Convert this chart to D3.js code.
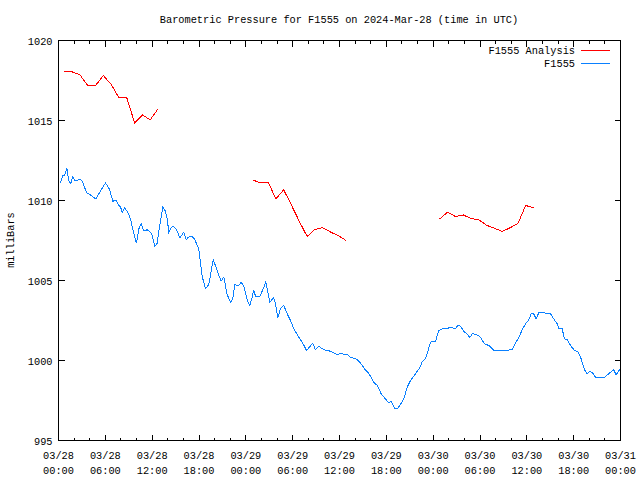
<!DOCTYPE html>
<html>
<head>
<meta charset="utf-8">
<script src="https://cdn.jsdelivr.net/npm/d3@7"></script>
<style>
  body { margin: 0; background: #fff; }
  svg text { font-family: "Liberation Mono", "DejaVu Sans Mono", monospace; font-size: 10.3px; fill: #000; }
</style>
</head>
<body>
<div id="chart"></div>
<script>
// hours since 2024-03-28 00:00 UTC
const stationTimes = [0.26,0.55,0.81,1.06,1.32,1.58,1.83,2.09,2.82,3.11,3.59,4.1,4.78,5.38,6.02,6.53,6.96,7.39,7.65,7.94,8.16,8.46,8.88,9.22,9.57,9.99,10.29,10.59,10.93,11.36,11.91,12.34,12.64,12.85,13.36,13.62,13.93,14.13,14.44,14.69,15.12,15.54,16.05,16.36,16.62,17.13,17.42,17.97,18.41,18.83,19.25,19.82,20.2,20.54,20.84,21.18,21.61,22.03,22.33,22.59,23.1,23.41,23.74,24.17,24.51,24.81,25.02,25.24,25.79,26.22,26.56,26.86,27.07,27.58,27.8,28.09,28.44,28.86,29.3,29.72,30.14,30.78,31.22,31.77,32.07,32.58,32.92,33.35,33.99,34.85,35.7,36.13,36.98,37.41,38.27,38.69,39.2,39.75,40.39,40.83,41.34,41.89,42.31,42.62,43.08,43.39,43.72,44.24,44.67,45.09,45.73,46.29,46.59,46.89,47.23,47.66,48.3,48.72,49.16,49.79,50.13,50.86,51.15,51.5,52.01,52.43,52.69,53.0,53.55,54.06,54.57,55.12,55.76,56.62,57.48,58.12,58.55,59.1,59.4,59.83,60.25,60.59,60.89,61.2,61.53,62.17,62.52,63.03,63.45,63.89,64.09,64.53,64.82,65.17,65.68,66.1,66.53,66.96,67.38,67.73,68.06,68.5,68.79,69.65,69.86,70.49,71.13,71.44,71.9];
const stationValues = [1011.1,1011.56,1011.6,1012.04,1011.25,1011.04,1011.5,1011.25,1011.3,1011.15,1010.48,1010.35,1010.1,1010.6,1011.1,1010.7,1009.96,1010.0,1009.73,1009.6,1009.27,1009.54,1009.27,1008.85,1008.1,1007.33,1008.23,1008.54,1008.1,1008.17,1007.96,1007.14,1007.33,1008.08,1009.58,1009.42,1008.85,1008.02,1008.29,1008.4,1008.19,1007.67,1008.02,1007.54,1007.71,1007.75,1007.6,1006.98,1005.25,1004.5,1004.73,1006.3,1005.8,1005.31,1004.97,1005.21,1004.12,1003.65,1003.85,1004.73,1004.69,1004.9,1004.63,1003.79,1003.44,1003.96,1004.42,1004.0,1004.0,1004.48,1004.9,1004.17,1003.65,1003.92,1003.54,1002.67,1003.23,1003.44,1002.92,1002.5,1001.98,1001.46,1001.15,1000.63,1000.79,1001.08,1000.67,1000.88,1000.67,1000.58,1000.38,1000.42,1000.38,1000.21,1000.06,999.85,999.48,999.2,998.65,998.44,997.92,997.6,997.35,997.46,996.98,996.98,997.19,997.6,998.33,998.75,999.17,999.54,999.94,1000.0,1000.42,1001.15,1001.19,1001.88,1001.98,1001.98,1002.08,1001.98,1002.19,1002.15,1001.77,1001.63,1001.42,1001.67,1001.63,1001.46,1001.04,1000.94,1000.63,1000.63,1000.63,1000.69,1001.08,1001.56,1001.92,1002.29,1002.54,1002.96,1002.9,1002.6,1002.98,1002.98,1002.96,1002.92,1002.6,1002.29,1002.02,1001.98,1001.35,1001.29,1000.88,1000.63,1000.56,1000.1,999.42,999.17,999.31,999.2,998.96,998.96,998.92,999.17,999.42,999.1,999.44];

// analysis runs (three separate segments)
const analysisTimes1 = [0.75,1.75,2.75,3.75,4.75,5.75,6.75,7.75,8.75,9.75,10.75,11.75,12.75];
const analysisValues1 = [1018.04,1018.04,1017.85,1017.19,1017.19,1017.81,1017.25,1016.42,1016.42,1014.85,1015.35,1015.04,1015.73];
const analysisTimes2 = [24.85,25.85,26.85,27.85,28.85,29.85,30.85,31.85,32.85,33.85,34.85,35.85,36.85];
const analysisValues2 = [1011.29,1011.1,1011.15,1010.1,1010.67,1009.7,1008.7,1007.75,1008.19,1008.3,1008.03,1007.8,1007.5];
const analysisTimes3 = [48.85,49.85,50.85,51.85,52.85,53.85,54.85,55.85,56.85,57.85,58.85,59.85,60.85];
const analysisValues3 = [1008.85,1009.27,1009.0,1009.1,1008.87,1008.8,1008.45,1008.27,1008.06,1008.3,1008.55,1009.69,1009.54];

const yTicks = [995, 1000, 1005, 1010, 1015, 1020];
const xTickLabels = [
  ["03/28","00:00"],["03/28","06:00"],["03/28","12:00"],["03/28","18:00"],
  ["03/29","00:00"],["03/29","06:00"],["03/29","12:00"],["03/29","18:00"],
  ["03/30","00:00"],["03/30","06:00"],["03/30","12:00"],["03/30","18:00"],
  ["03/31","00:00"]
];

const width = 640, height = 480;
const margin = {left: 58.5, right: 19.5, top: 40.5, bottom: 39.5};

const svg = d3.select("#chart").append("svg")
  .attr("width", width).attr("height", height);

const x = d3.scaleLinear().domain([0, 72]).range([margin.left, width - margin.right]);
const y = d3.scaleLinear().domain([995, 1020]).range([height - margin.bottom, margin.top]);

// ticks (inward, on all four sides)
const majorX = d3.range(0, 73, 6);
const minorX = d3.range(0, 73, 2).filter(h => h % 6 !== 0);
const tickG = svg.append("g").attr("stroke", "#000").attr("stroke-width", 1).attr("shape-rendering", "crispEdges");
majorX.forEach(h => {
  tickG.append("line").attr("x1", x(h)).attr("x2", x(h)).attr("y1", y(995)).attr("y2", y(995) - 6);
  tickG.append("line").attr("x1", x(h)).attr("x2", x(h)).attr("y1", y(1020)).attr("y2", y(1020) + 6);
});
minorX.forEach(h => {
  tickG.append("line").attr("x1", x(h)).attr("x2", x(h)).attr("y1", y(995)).attr("y2", y(995) - 3);
  tickG.append("line").attr("x1", x(h)).attr("x2", x(h)).attr("y1", y(1020)).attr("y2", y(1020) + 3);
});
yTicks.forEach(v => {
  tickG.append("line").attr("x1", x(0)).attr("x2", x(0) + 6).attr("y1", y(v)).attr("y2", y(v));
  tickG.append("line").attr("x1", x(72)).attr("x2", x(72) - 6).attr("y1", y(v)).attr("y2", y(v));
});

// border
svg.append("rect")
  .attr("x", x(0)).attr("y", y(1020))
  .attr("width", x(72) - x(0)).attr("height", y(995) - y(1020))
  .attr("fill", "none").attr("stroke", "#000").attr("shape-rendering", "crispEdges");

// tick labels
yTicks.forEach(v => {
  svg.append("text").attr("x", x(0) - 6).attr("y", y(v) + 4)
    .attr("text-anchor", "end").text(v);
});
xTickLabels.forEach((lab, i) => {
  const t = svg.append("text").attr("text-anchor", "middle");
  t.append("tspan").attr("x", x(i * 6)).attr("y", y(995) + 18).text(lab[0]);
  t.append("tspan").attr("x", x(i * 6)).attr("y", y(995) + 33).text(lab[1]);
});

// title and axis label
svg.append("text").attr("x", 339).attr("y", 23).attr("text-anchor", "middle")
  .text("Barometric Pressure for F1555 on 2024-Mar-28 (time in UTC)");
svg.append("text").attr("transform", "translate(14,240) rotate(-90)")
  .attr("text-anchor", "middle").text("milliBars");

// lines
const line = d3.line().x(d => x(d[0])).y(d => y(d[1]));
const zip = (a, b) => a.map((t, i) => [t, b[i]]);

[[analysisTimes1, analysisValues1], [analysisTimes2, analysisValues2], [analysisTimes3, analysisValues3]]
  .forEach(([t, v]) => {
    svg.append("path").datum(zip(t, v)).attr("d", line)
      .attr("fill", "none").attr("stroke", "#ff0000").attr("stroke-width", 1)
      .attr("shape-rendering", "crispEdges");
  });
svg.append("path").datum(zip(stationTimes, stationValues)).attr("d", line)
  .attr("fill", "none").attr("stroke", "#0a80ff").attr("stroke-width", 1)
  .attr("shape-rendering", "crispEdges");

// legend
const legend = [["F1555 Analysis", "#ff0000"], ["F1555", "#0a80ff"]];
legend.forEach((d, i) => {
  const ly = 50 + i * 13;
  svg.append("text").attr("x", 575).attr("y", ly + 4).attr("text-anchor", "end").text(d[0]);
  svg.append("line").attr("x1", 581).attr("x2", 610).attr("y1", ly + 0.5).attr("y2", ly + 0.5)
    .attr("stroke", d[1]).attr("stroke-width", 1);
});
</script>
</body>
</html>
